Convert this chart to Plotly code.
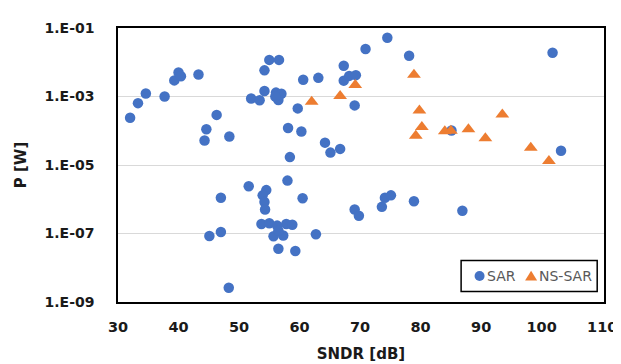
import plotly.graph_objects as go

# ---- data ----
sar_sndr = [32.0, 33.3, 34.6, 37.7, 39.3, 40.0, 40.4, 43.3, 44.6, 44.3, 46.3, 48.4,
            52.0, 53.4, 54.2, 55.0, 56.6, 54.2, 56.1, 57.0, 56.5, 56.0, 58.1, 58.4,
            59.7, 60.3, 60.6, 63.1, 70.9, 74.5, 78.1, 101.8, 67.3, 67.3, 68.2, 69.3,
            69.1, 85.1, 103.2, 64.2, 65.1, 66.7, 58.0, 51.6, 47.0, 54.5, 53.9, 54.2,
            54.3, 60.5, 53.7, 55.0, 56.3, 57.8, 58.8, 55.7, 57.3, 56.5, 56.5, 59.3,
            45.1, 47.0, 48.3, 62.7, 69.1, 69.8, 73.6, 74.1, 75.1, 78.9, 86.9]
sar_power = [2.4e-4, 6.4e-4, 1.23e-3, 1.0e-3, 2.95e-3, 5.0e-3, 3.9e-3, 4.4e-3, 1.1e-4, 5.2e-5,
             2.9e-4, 6.8e-5, 8.7e-4, 7.8e-4, 5.8e-3, 1.17e-2, 1.17e-2, 1.45e-3, 1.3e-3, 1.2e-3,
             7.9e-4, 1.0e-3, 1.2e-4, 1.7e-5, 4.5e-4, 9.5e-5, 3.1e-3, 3.5e-3, 2.45e-2, 5.2e-2,
             1.55e-2, 1.9e-2, 7.9e-3, 2.9e-3, 4.0e-3, 4.2e-3, 5.5e-4, 1.02e-4, 2.6e-5, 4.5e-5,
             2.3e-5, 2.95e-5, 3.5e-6, 2.4e-6, 1.1e-6, 1.85e-6, 1.3e-6, 8.3e-7, 5.0e-7, 1.07e-6,
             1.9e-7, 2.0e-7, 1.7e-7, 1.9e-7, 1.8e-7, 8.3e-8, 8.7e-8, 1.2e-7, 3.6e-8, 3.1e-8,
             8.5e-8, 1.1e-7, 2.6e-9, 9.5e-8, 5.0e-7, 3.3e-7, 6.0e-7, 1.1e-6, 1.3e-6, 8.7e-7,
             4.6e-7]

nssar_sndr = [62.0, 66.7, 69.2, 78.9, 79.8, 80.2, 79.2, 84.0, 85.0, 87.9, 90.7, 93.5, 98.2, 101.2]
nssar_power = [7.0e-4, 1.04e-3, 2.16e-3, 4.3e-3, 3.9e-4, 1.28e-4, 7.1e-5, 9.6e-5, 1.0e-4,
               1.1e-4, 6.0e-5, 3.0e-4, 3.2e-5, 1.3e-5]

x_ticks = [30, 40, 50, 60, 70, 80, 90, 100, 110]
y_tickvals = [1e-9, 1e-7, 1e-5, 1e-3, 1e-1]
y_ticktext = ["1.E-09", "1.E-07", "1.E-05", "1.E-03", "1.E-01"]

BLUE = "#4472C4"
ORANGE = "#ED7D31"
FONT = "DejaVu Sans"
TXT = "#1a1a1a"

fig = go.Figure()
fig.add_trace(go.Scatter(x=sar_sndr, y=sar_power, mode="markers", name="SAR",
                         marker=dict(symbol="circle", size=10.5, color=BLUE)))
fig.add_trace(go.Scatter(x=nssar_sndr, y=nssar_power, mode="markers", name="NS-SAR",
                         marker=dict(symbol="triangle-up", size=12, color=ORANGE)))

# plot area geometry (px): x 107..607, y 17..301
L, R, T, B = 107, 14, 17, 63
W, H = 621, 364
pw, ph = W - L - R, H - T - B


def px2x(px):
    return (px - L) / pw


def py2y(py):
    return (H - B - py) / ph


legend_y = py2y(274)
shapes = [
    dict(type="rect", xref="paper", yref="paper", x0=px2x(460), x1=px2x(600),
         y0=py2y(290), y1=py2y(258), line=dict(color="black", width=1.5),
         fillcolor="white", layer="above"),
    dict(type="circle", xref="paper", yref="paper", xsizemode="pixel", ysizemode="pixel",
         xanchor=px2x(479), yanchor=legend_y, x0=-5, x1=5, y0=-5, y1=5,
         fillcolor=BLUE, line=dict(width=0), layer="above"),
    dict(type="path", xref="paper", yref="paper", xsizemode="pixel", ysizemode="pixel",
         xanchor=px2x(532), yanchor=legend_y, path="M -6,-4.5 L 6,-4.5 L 0,5.2 Z",
         fillcolor=ORANGE, line=dict(width=0), layer="above"),
]
annotations = [
    dict(text="SAR", xref="paper", yref="paper", x=px2x(485), y=legend_y,
         xanchor="left", yanchor="middle", showarrow=False,
         font=dict(family=FONT, size=14, color="#595959")),
    dict(text="NS-SAR", xref="paper", yref="paper", x=px2x(538), y=legend_y,
         xanchor="left", yanchor="middle", showarrow=False,
         font=dict(family=FONT, size=14, color="#595959")),
]

fig.update_layout(
    width=W, height=H,
    margin=dict(l=L, r=R, t=T, b=B, pad=0),
    paper_bgcolor="white", plot_bgcolor="white",
    showlegend=False,
    shapes=shapes, annotations=annotations,
    font=dict(family=FONT, color=TXT),
)
fig.update_xaxes(
    range=[30, 110.3], tickvals=x_ticks, showgrid=False, zeroline=False,
    showline=True, linecolor="black", linewidth=1.5, mirror=True, ticks="",
    tickfont=dict(family=FONT, size=14.5, color=TXT, weight="bold"),
    ticklabelstandoff=11,
    title=dict(text="<b>SNDR [dB]</b>", font=dict(family=FONT, size=15, color=TXT),
               standoff=14),
)
fig.update_yaxes(
    type="log", range=[-9, -1], tickvals=y_tickvals, ticktext=y_ticktext,
    showgrid=True, gridcolor="#d9d9d9", gridwidth=1, zeroline=False,
    showline=True, linecolor="black", linewidth=1.5, mirror=True, ticks="",
    tickfont=dict(family=FONT, size=14, color=TXT, weight="bold"),
    ticklabelstandoff=19,
    title=dict(text="<b>P [W]</b>", font=dict(family=FONT, size=15, color=TXT),
               standoff=14),
)

fig.write_html("out.html")
